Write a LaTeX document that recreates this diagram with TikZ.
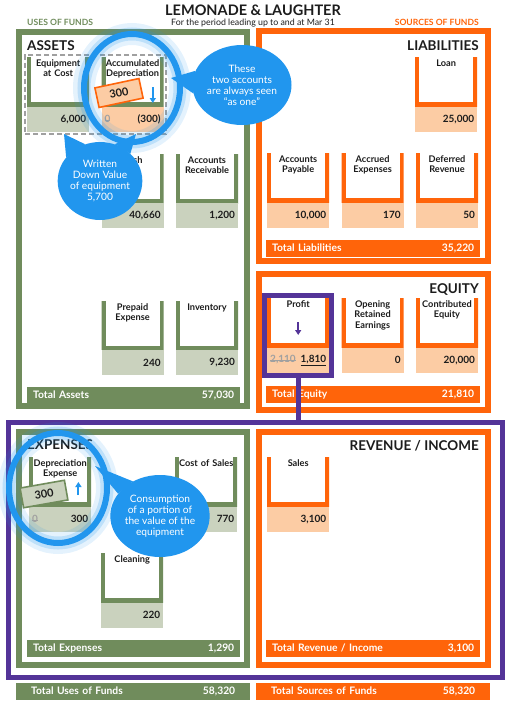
\documentclass[tikz,border=0pt]{standalone}
\usepackage{fontspec}
\setmainfont{Lato}
\usetikzlibrary{positioning}
\usetikzlibrary{arrows.meta}
\usetikzlibrary{calc}
\usetikzlibrary{fit}
\usetikzlibrary{shapes.geometric}

\definecolor{fundgreen}{RGB}{112,140,92}
\definecolor{palegreen}{RGB}{202,210,190}
\definecolor{fundorange}{RGB}{255,100,10}
\definecolor{peach}{RGB}{252,204,164}
\definecolor{plpurple}{RGB}{84,52,152}
\definecolor{callout}{RGB}{33,150,238}
\definecolor{ink}{RGB}{28,28,28}
\definecolor{faded}{RGB}{160,160,160}

\newcommand{\struckout}[1]{\sbox0{#1}\rlap{\rule[0.33ex]{\wd0}{0.7pt}}\usebox0}

\begin{document}
\begin{tikzpicture}[ x = 1pt, y = -1pt
                   , font = \bfseries\fontsize{9.2}{10.2}\selectfont
                   , every node/.style = { inner sep = 0pt
                                         , text      = ink
                                         }
                   % Use triangle style arrows
                   , >={Triangle[width=6pt, length=5pt]}
                   , node distance = 0pt and 12pt
                   ]

  \useasboundingbox (0,0) rectangle (505,704);

  %%
  %% Node types
  %%
  \tikzset{ tacct/.style={ fill=white, minimum width=62pt, text width=61pt
                         , align=center, text height=9.5pt, text depth=39.5pt
                         , path picture={\draw[line width=8pt, draw=#1]
                               (path picture bounding box.north west)
                            -- (path picture bounding box.south west)
                            -- (path picture bounding box.south east)
                            -- (path picture bounding box.north east);}
                         }
          , gacct/.style={tacct=fundgreen}
          , oacct/.style={tacct=fundorange}
          , bal/.style={ fill=#1, minimum width=62pt, minimum height=25pt
                       , text width=56pt, align=right
                       , font=\bfseries\fontsize{10}{11}\selectfont
                       }
          , gbal/.style={bal=palegreen}
          , obal/.style={bal=peach}
          , total/.style={ fill=#1, text=white, minimum height=16.5pt
                         , inner xsep=6pt, anchor=north west
                         , font=\bfseries\fontsize{10.3}{11}\selectfont
                         }
          , grand/.style={total=#1, inner xsep=15pt}
          , heading/.style={font=\bfseries\fontsize{13.5}{14}\selectfont}
          , section/.style={draw=#1, line width=6pt}
          , bubble/.style={ ellipse, fill=callout, text=white, align=center
                          , font=\mdseries\fontsize{10.2}{11}\selectfont
                          }
          , lens/.style={ ellipse, draw=callout, line width=6pt
                        , preaction={draw=callout, draw opacity=0.12, line width=22pt}
                        , preaction={draw=callout, draw opacity=0.2, line width=13pt}
                        }
          , tag/.style={ draw=#1, line width=1.6pt, minimum width=45pt
                       , minimum height=20pt
                       , font=\bfseries\fontsize{11}{11}\selectfont
                       }
          , pairbox/.style={ draw=faded, line width=1.5pt
                           , dash pattern=on 5pt off 3pt, inner sep=2pt
                           }
          , plbox/.style={draw=plpurple, line width=5pt}
          }

  %%
  %% Arrow types
  %%
  \tikzset{ movearrow/.style={->, line width=2pt, draw=#1, fill=#1}
          , pllink/.style={draw=plpurple, line width=5pt}
          }

  %%
  %% Header
  %%
  \node (title)   [anchor=base, font=\bfseries\fontsize{14.5}{15}\selectfont] at (253,15.5) {LEMONADE \& LAUGHTER};
  \node (period)  [anchor=base, font=\mdseries\fontsize{8.8}{9}\selectfont] at (253,25.5) {For the period leading up to and at Mar 31};
  \node (uses)    [anchor=base west, text=fundgreen, font=\bfseries\fontsize{8.6}{9}\selectfont] at (27,25.5) {USES OF FUNDS};
  \node (sources) [anchor=base east, text=fundorange, font=\bfseries\fontsize{8.6}{9}\selectfont] at (479,25.5) {SOURCES OF FUNDS};

  %%
  %% Sections
  %%
  \draw[section=fundgreen]  (19,32)  rectangle (247,406);
  \draw[section=fundorange] (259,31) rectangle (487.5,261);
  \draw[section=fundorange] (259,274) rectangle (487.5,410);
  \draw[section=fundgreen]  (19,432) rectangle (247,664.5);
  \draw[section=fundorange] (259,432) rectangle (487.5,664.5);
  \node (pl) [plbox, minimum width=494pt, minimum height=255pt, anchor=north west] at (5.5,419.5) {};

  \node (assetshd)  [heading, anchor=base west] at (27,50)  {ASSETS};
  \node (liabhd)    [heading, anchor=base east] at (479,50) {LIABILITIES};
  \node (equityhd)  [heading, anchor=base east] at (479,293) {EQUITY};
  \node (expenshd)  [heading, anchor=base west] at (27,449) {EXPENSES};
  \node (revenuehd) [heading, anchor=base east] at (479,450) {REVENUE / INCOME};

  %%
  %% Assets
  %%
  \node (eqc)     [gacct, anchor=north west] at (27,57) {Equipment\\at Cost};
  \node (eqcbal)  [gbal, below = of eqc]      {6,000};
  \node (accd)    [gacct, right = of eqc]     {Accumulated\\Depreciation};
  \node (accdbal) [obal, below = of accd]     {\textcolor{faded}{\struckout{0}}\hfill(300)};
  \node (cash)    [gacct, below = 22pt of accdbal] {Cash};
  \node (cashbal) [gbal, below = of cash]     {40,660};
  \node (ar)      [gacct, right = of cash]    {Accounts\\Receivable};
  \node (arbal)   [gbal, below = of ar]       {1,200};
  \node (ppe)     [gacct, below = 72pt of cashbal] {Prepaid\\Expense};
  \node (ppebal)  [gbal, below = of ppe]      {240};
  \node (inv)     [gacct, right = of ppe]     {Inventory};
  \node (invbal)  [gbal, below = of inv]      {9,230};
  \node (tassets) [total=fundgreen, text width=201pt] at (27,387) {Total Assets\hfill 57,030};

  %%
  %% Liabilities
  %%
  \node (loan)     [oacct, anchor=north west] at (415,57) {Loan};
  \node (loanbal)  [obal, below = of loan]    {25,000};
  \node (ap)       [oacct, anchor=north west] at (267,153) {Accounts\\Payable};
  \node (apbal)    [obal, below = of ap]      {10,000};
  \node (accx)     [oacct, right = of ap]     {Accrued\\Expenses};
  \node (accxbal)  [obal, below = of accx]    {170};
  \node (defr)     [oacct, right = of accx]   {Deferred\\Revenue};
  \node (defrbal)  [obal, below = of defr]    {50};
  \node (tliab)    [total=fundorange, text width=202pt] at (266,240) {Total Liabilities\hfill 35,220};

  %%
  %% Equity
  %%
  \node (prof)     [oacct, anchor=north west] at (267,298) {Profit};
  \node (profbal)  [obal, below = of prof]    {\textcolor{faded}{\struckout{2,110}}\hfill\underline{1,810}};
  \node (ore)      [oacct, right = of prof]   {Opening\\Retained\\Earnings};
  \node (orebal)   [obal, below = of ore]     {0};
  \node (ceq)      [oacct, right = of ore]    {Contributed\\Equity};
  \node (ceqbal)   [obal, below = of ceq]     {20,000};
  \node (tequity)  [total=fundorange, text width=202pt] at (266,386) {Total Equity\hfill 21,810};

  %%
  %% Expenses
  %%
  \node (dep)      [gacct, anchor=north west] at (29,457) {Depreciation\\Expense};
  \node (depbal)   [gbal, below = of dep]     {\textcolor{faded}{\struckout{0}}\hfill 300};
  \node (cos)      [gacct, anchor=north west] at (175,457) {Cost of Sales};
  \node (cosbal)   [gbal, below = of cos]     {770};
  \node (cln)      [gacct, anchor=north west] at (101,553) {Cleaning};
  \node (clnbal)   [gbal, below = of cln]     {220};
  \node (texp)     [total=fundgreen, text width=201pt] at (27,640) {Total Expenses\hfill 1,290};

  %%
  %% Revenue / income
  %%
  \node (sales)    [oacct, anchor=north west] at (267,457) {Sales};
  \node (salesbal) [obal, below = of sales]   {3,100};
  \node (trev)     [total=fundorange, text width=202pt] at (266,640) {Total Revenue / Income\hfill 3,100};

  %%
  %% Grand totals
  %%
  \node (tuses)    [grand=fundgreen, text width=204pt] at (16,683) {Total Uses of Funds\hfill 58,320};
  \node (tsources) [grand=fundorange, text width=204pt] at (256,683) {Total Sources of Funds\hfill 58,320};

  %%
  %% Profit link
  %%
  \node (profmark) [plbox, fit=(prof)(profbal), inner sep=2.5pt] {};
  \draw[pllink] (profmark.south) -- (profmark.south |- pl.north);
  \draw[movearrow=plpurple] ($(prof.north)+(0,24)$) -- ++(0,13);

  %%
  %% Callouts, assets
  %%
  \node (pair)  [pairbox, fit=(eqc)(accdbal)] {};
  \node (lens1) [lens, minimum width=96pt, minimum height=108pt] at (132,88) {};
  \node (adtag) [tag=fundorange, fill=peach, rotate=12] at (119,93) {300};
  \draw[movearrow=callout] ($(accd.north east)+(-11,30)$) -- ++(0,16);

  \node (asone) [bubble, minimum width=80pt, minimum height=80pt] at (242,85) {These\\two accounts\\are always seen\\``as one''};
  \coordinate (asonetip) at (171,78);
  \fill[callout] (asone.163) -- (asonetip) -- (asone.190) -- cycle;

  \node (wdv) [bubble, minimum width=78pt, minimum height=78pt] at (100,181) {Written\\Down Value\\of equipment\\5,700};
  \coordinate (wdvtipa) at (64,134);
  \coordinate (wdvtipb) at (136,134);
  \fill[callout] (wdv.112) -- (wdvtipa) -- (wdv.145) -- cycle;
  \fill[callout] (wdv.42) -- (wdvtipb) -- (wdv.68) -- cycle;

  %%
  %% Callouts, expenses
  %%
  \node (lens2)  [lens, minimum width=98pt, minimum height=110pt] at (58,488) {};
  \node (deptag) [tag=fundgreen, fill=palegreen, rotate=10] at (44,494) {300};
  \draw[movearrow=callout] ($(dep.north east)+(-13,38)$) -- ++(0,-13);

  \node (consume) [bubble, minimum width=84pt, minimum height=82pt] at (160,516) {Consumption\\of a portion of\\the value of the\\equipment};
  \coordinate (consumetip) at (95,466);
  \fill[callout] (consume.128) -- (consumetip) -- (consume.152) -- cycle;

\end{tikzpicture}
\end{document}
